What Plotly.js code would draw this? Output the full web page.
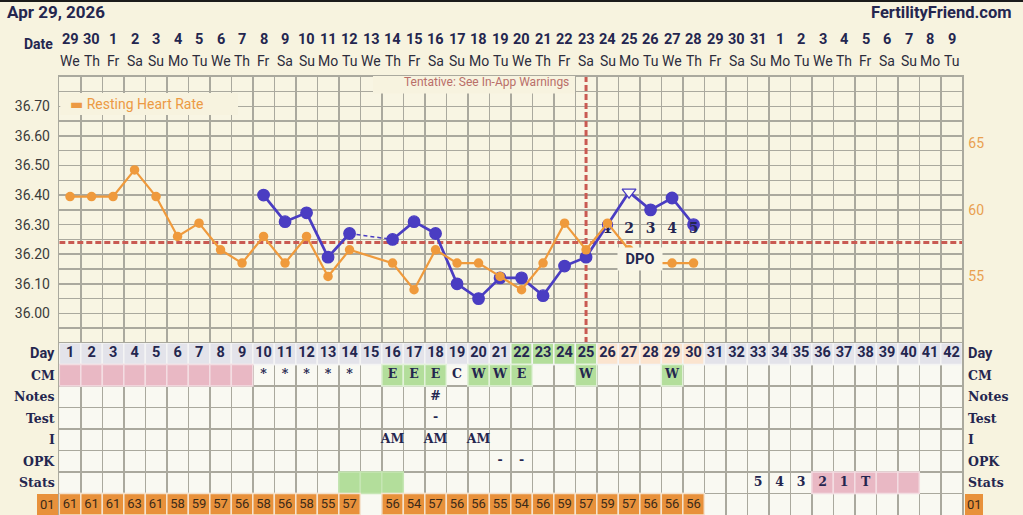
<!DOCTYPE html>
<html><head><meta charset="utf-8">
<script src="https://cdn.plot.ly/plotly-3.0.1.min.js"></script>
<style>html,body{margin:0;padding:0;background:#f7f3df;}#chart{width:1023px;height:515px;}</style>
</head><body><div id="chart"></div>
<script>
// ---------- data ----------
const days = [1,2,3,4,5,6,7,8,9,10,11,12,13,14,15,16,17,18,19,20,21,22,23,24,25,26,27,28,29,30,31,32,33,34,35,36,37,38,39,40,41,42];
const dates = [29,30,1,2,3,4,5,6,7,8,9,10,11,12,13,14,15,16,17,18,19,20,21,22,23,24,25,26,27,28,29,30,31,1,2,3,4,5,6,7,8,9];
const weekdays = ['We','Th','Fr','Sa','Su','Mo','Tu','We','Th','Fr','Sa','Su','Mo','Tu','We','Th','Fr','Sa','Su','Mo','Tu','We','Th','Fr','Sa','Su','Mo','Tu','We','Th','Fr','Sa','Su','Mo','Tu','We','Th','Fr','Sa','Su','Mo','Tu'];
const cycleDays = [1,2,3,4,5,6,7,8,9,10,11,12,13,14,15,16,17,18,19,20,21,22,23,24,25,26,27,28,29,30];
const temps = [null,null,null,null,null,null,null,null,null,36.40,36.31,36.34,36.19,36.27,null,36.25,36.31,36.27,36.10,36.05,36.12,36.12,36.06,36.16,36.19,36.30,36.41,36.35,36.39,36.30];
const heartRate = [61,61,61,63,61,58,59,57,56,58,56,58,55,57,null,56,54,57,56,56,55,54,56,59,57,59,57,56,56,56];
const coverline = 36.24;
const ovulationDay = 25;
const dpoDays = [26,27,28,29,30];
const dpoLabels = ['1','2','3','4','5'];
const tempTickVals = [36.0,36.1,36.2,36.3,36.4,36.5,36.6,36.7];
const tempTickText = ['36.00','36.10','36.20','36.30','36.40','36.50','36.60','36.70'];
const hrTickVals = [55,60,65];
const rowLabels = ['Day','CM','Notes','Test','I','OPK','Stats'];
const menstruationDays = [1,2,3,4,5,6,7,8,9];
const cmDays = [10,11,12,13,14,16,17,18,19,20,21,22,25,29];
const cmText = ['*','*','*','*','*','E','E','E','C','W','W','E','W','W'];
const cmGreenDays = [16,17,18,20,21,22,25,29];
const notesDays = [18]; const notesText = ['#'];
const testDays = [18]; const testText = ['-'];
const intercourseDays = [16,18,20]; const intercourseText = ['AM','AM','AM'];
const opkDays = [21,22]; const opkText = ['-','-'];
const statsDays = [33,34,35,36,37,38]; const statsText = ['5','4','3','2','1','T'];
const statsGreenDays = [14,15,16];
const statsPinkDays = [36,37,38,39,40];
const fertileDays = [22,23,24,25];
const lutealDays = [26,27,28,29,30];

// ---------- style / geometry ----------
const W = 1023, H = 515;
const gridLeft = 59.3, gridRight = 962.3, gridTop = 76.7, gridBottom = 343;
const navy = '#24264f', orange = '#ef9a3c', purple = '#4a3dc2', red = '#c95a52';
const gridC = '#aaa99e', cream = '#f7f3df', tableWhite = '#f9f9f2';
const dayGray = '#e3e3ea', green = '#b3de9b', peach = '#fbe4cf', pink = '#e9b8c4', hrOrange = '#e8913b';
const slab = 'DejaVu Serif', sans = 'Roboto';
const DPO_LEVEL = 36.283;
const ROW = {Day:0, CM:1, Notes:2, Test:3, I:4, OPK:5, Stats:6, HR:7};
const px = v => v / W, py = v => 1 - v / H;

// ---------- traces ----------
const traces = [];
traces.push({x: cycleDays, y: heartRate, yaxis: 'y2', mode: 'lines+markers', connectgaps: true,
  line: {color: orange, width: 2.2}, marker: {color: orange, size: 9.5, opacity: 1}, hoverinfo: 'skip', showlegend: false});
traces.push({x: [cycleDays[13], cycleDays[15]], y: [temps[13], temps[15]], mode: 'lines',
  line: {color: purple, width: 1.5, dash: '4px,3px'}, hoverinfo: 'skip', showlegend: false});
traces.push({x: cycleDays, y: temps, mode: 'lines+markers', connectgaps: false,
  line: {color: purple, width: 2.7},
  marker: {
    opacity: 1,
    color: cycleDays.map(d => d === 26 || d === 27 ? '#fbfaf3' : purple),
    symbol: cycleDays.map(d => d === 27 ? 'triangle-down' : 'circle'),
    size: cycleDays.map(d => d === 26 ? 10 : d === 27 ? 12 : 11.5),
    line: {color: purple, width: 1.3}
  }, hoverinfo: 'skip', showlegend: false});
traces.push({x: dpoDays, y: dpoDays.map(() => DPO_LEVEL), mode: 'text', text: dpoLabels,
  textfont: {family: slab, size: 14, color: navy, weight: 'bold'}, hoverinfo: 'skip', showlegend: false});

function textRow(xs, txt, row, font) {
  return {x: xs, y: xs.map(() => row + 0.5), yaxis: 'y3', mode: 'text', text: txt,
    textfont: font, hoverinfo: 'skip', showlegend: false, cliponaxis: false};
}
const slabFont = {family: slab, size: 12.5, color: navy, weight: 'bold'};
traces.push(textRow(days, days.map(String), ROW.Day, {family: sans, size: 14.5, color: navy, weight: 'bold'}));
traces.push(textRow(cmDays, cmText, ROW.CM, slabFont));
traces.push(textRow(notesDays, notesText, ROW.Notes, slabFont));
traces.push(textRow(testDays, testText, ROW.Test, slabFont));
traces.push(textRow(intercourseDays, intercourseText, ROW.I, slabFont));
traces.push(textRow(opkDays, opkText, ROW.OPK, slabFont));
traces.push(textRow(statsDays, statsText, ROW.Stats, slabFont));
const hrDays = cycleDays.filter((d, i) => heartRate[i] !== null);
const hrVals = heartRate.filter(v => v !== null);
traces.push(textRow(hrDays, hrVals.map(String), ROW.HR, {family: sans, size: 13, color: '#3b2a18'}));

// ---------- shapes ----------
const shapes = [];
shapes.push({type: 'rect', xref: 'x', yref: 'y3', x0: 0.5, x1: 42.5, y0: 0, y1: 8, fillcolor: tableWhite, line: {width: 0}, layer: 'below'});
function cell(day, row, fill, sep) {
  return {type: 'rect', xref: 'x', yref: 'y3', x0: day - 0.5, x1: day + 0.5, y0: row, y1: row + 1,
    fillcolor: fill, line: {color: sep, width: 1.5}, layer: 'between'};
}
days.forEach(d => {
  const c = fertileDays.includes(d) ? green : lutealDays.includes(d) ? peach : dayGray;
  shapes.push(cell(d, ROW.Day, c, '#f4f4f4'));
});
menstruationDays.forEach(d => shapes.push(cell(d, ROW.CM, pink, '#f3dde2')));
cmGreenDays.forEach(d => shapes.push(cell(d, ROW.CM, green, '#e3f2da')));
statsGreenDays.forEach(d => shapes.push(cell(d, ROW.Stats, green, '#c6e6b4')));
statsPinkDays.forEach(d => shapes.push(cell(d, ROW.Stats, pink, '#f3dde2')));
hrDays.forEach(d => shapes.push(cell(d, ROW.HR, hrOrange, '#f4e3cf')));
// coverline & ovulation
shapes.push({type: 'line', xref: 'x', yref: 'y', x0: 0.5, x1: 42.5, y0: coverline, y1: coverline,
  line: {color: red, width: 3, dash: '6px,3px'}, layer: 'between'});
shapes.push({type: 'line', xref: 'x', yref: 'y', x0: ovulationDay, x1: ovulationDay, y0: 35.9, y1: 36.8,
  line: {color: red, width: 3, dash: '6px,3px'}, layer: 'between'});
// boxes in paper space
shapes.push({type: 'rect', xref: 'paper', yref: 'paper', x0: px(373), x1: px(575), y0: py(93.5), y1: py(76), fillcolor: cream, line: {width: 0}, layer: 'above'});
shapes.push({type: 'rect', xref: 'paper', yref: 'paper', x0: px(60.3), x1: px(238), y0: py(115), y1: py(93), fillcolor: cream, line: {width: 0}, layer: 'above'});
shapes.push({type: 'rect', xref: 'paper', yref: 'paper', x0: px(37), x1: px(58), y0: py(515), y1: py(494), fillcolor: hrOrange, line: {width: 0}, layer: 'above'});
shapes.push({type: 'rect', xref: 'paper', yref: 'paper', x0: px(965), x1: px(983), y0: py(515), y1: py(494), fillcolor: hrOrange, line: {width: 0}, layer: 'above'});
shapes.push({type: 'rect', xref: 'paper', yref: 'paper', x0: 0, x1: 1, y0: py(2), y1: 1, fillcolor: '#1b1b1b', line: {width: 0}, layer: 'above'});

// ---------- annotations ----------
const ann = [];
ann.push({xref: 'paper', yref: 'paper', x: px(1014), y: py(12.5), xanchor: 'right', yanchor: 'middle', showarrow: false,
  text: '<b>FertilityFriend.com</b>', font: {family: sans, size: 16.5, color: navy}});
ann.push({xref: 'paper', yref: 'paper', x: px(38), y: py(44), xanchor: 'center', yanchor: 'middle', showarrow: false,
  text: '<b>Date</b>', font: {family: sans, size: 14, color: navy}});
days.forEach((d, i) => {
  ann.push({xref: 'x', yref: 'paper', x: d, y: py(40), yanchor: 'middle', showarrow: false,
    text: '<b>' + dates[i] + '</b>', font: {family: sans, size: 14.5, color: navy}});
  ann.push({xref: 'x', yref: 'paper', x: d, y: py(61), yanchor: 'middle', showarrow: false,
    text: weekdays[i], font: {family: sans, size: 14, color: '#2c2c3c'}});
});
rowLabels.forEach((lab, r) => {
  const f = lab === 'Day' ? {family: sans, size: 14.5, color: navy} : {family: slab, size: 12.5, color: navy};
  ann.push({xref: 'paper', yref: 'y3', x: px(56.5), y: r + 0.5, xanchor: 'right', yanchor: 'middle', showarrow: false, text: '<b>' + lab + '</b>', font: f});
  ann.push({xref: 'paper', yref: 'y3', x: px(966), y: r + 0.5, xanchor: 'left', yanchor: 'middle', showarrow: false, text: '<b>' + lab + '</b>', font: f});
});
ann.push({xref: 'paper', yref: 'y3', x: px(47.5), y: ROW.HR + 0.5, xanchor: 'center', yanchor: 'middle', showarrow: false, text: '01', font: {family: sans, size: 13, color: '#3b2a18'}});
ann.push({xref: 'paper', yref: 'y3', x: px(974), y: ROW.HR + 0.5, xanchor: 'center', yanchor: 'middle', showarrow: false, text: '01', font: {family: sans, size: 13, color: '#3b2a18'}});
ann.push({xref: 'paper', yref: 'paper', x: px(571), y: py(82), xanchor: 'right', yanchor: 'middle', showarrow: false,
  text: 'Tentative: See In-App Warnings', font: {family: sans, size: 12, color: '#b96f69'}});
ann.push({xref: 'paper', yref: 'paper', x: px(68), y: py(104), xanchor: 'left', yanchor: 'middle', showarrow: false,
  text: '<span style="font-family:DejaVu Sans">▬</span> Resting Heart Rate', font: {family: sans, size: 14, color: '#ec9a44'}});
ann.push({xref: 'x', yref: 'paper', x: 27.5, y: py(258.5), xanchor: 'center', yanchor: 'middle', showarrow: false,
  text: '<b>DPO</b>', font: {family: sans, size: 14.5, color: navy}, bgcolor: '#f8f5e6', width: 42, height: 20, borderpad: 1});

// ---------- layout ----------
const layout = {
  width: W, height: H,
  margin: {l: 0, r: 0, t: 0, b: 0},
  paper_bgcolor: cream, plot_bgcolor: '#f8f5e3',
  title: {text: '<b>Apr 29, 2026</b>', x: px(7), xanchor: 'left', xref: 'paper', y: py(12.5), yanchor: 'middle', yref: 'paper',
    font: {family: sans, size: 17, color: navy}},
  showlegend: false,
  xaxis: {domain: [px(gridLeft), px(gridRight)], range: [0.5, 42.5], tickmode: 'linear', tick0: 0.5, dtick: 1,
    showgrid: true, gridcolor: gridC, gridwidth: 1.5, showticklabels: false, ticks: '', zeroline: false,
    showline: true, linecolor: gridC, linewidth: 1.5, mirror: 'all', fixedrange: true},
  yaxis: {domain: [1 - gridBottom / H, 1 - gridTop / H], range: [35.9, 36.8], tickmode: 'array', tickvals: tempTickVals, ticktext: tempTickText,
    showgrid: true, gridcolor: gridC, gridwidth: 1.5, zeroline: false, ticks: '', ticklabelstandoff: 5,
    minor: {tickmode: 'linear', tick0: 35.9, dtick: 0.05, showgrid: true, gridcolor: gridC, gridwidth: 1.5},
    tickfont: {family: sans, size: 14, color: '#3a3a3a'},
    showline: true, linecolor: gridC, linewidth: 1.5, mirror: true, fixedrange: true},
  yaxis2: {overlaying: 'y', side: 'right', anchor: 'x', range: [50, 70], tickmode: 'array', tickvals: hrTickVals,
    showgrid: false, zeroline: false, ticks: '', ticklabelstandoff: 5, tickfont: {family: sans, size: 14, color: '#e9a050'}, fixedrange: true},
  yaxis3: {domain: [0, 1 - gridBottom / H], anchor: 'x', range: [8, 0], tickmode: 'linear', tick0: 0, dtick: 1,
    showgrid: true, gridcolor: gridC, gridwidth: 1.5, showticklabels: false, ticks: '', zeroline: false,
    showline: true, linecolor: gridC, linewidth: 1.5, mirror: true, fixedrange: true},
  shapes: shapes,
  annotations: ann
};
Plotly.newPlot('chart', traces, layout, {displayModeBar: false, staticPlot: true});
</script>
</body></html>
